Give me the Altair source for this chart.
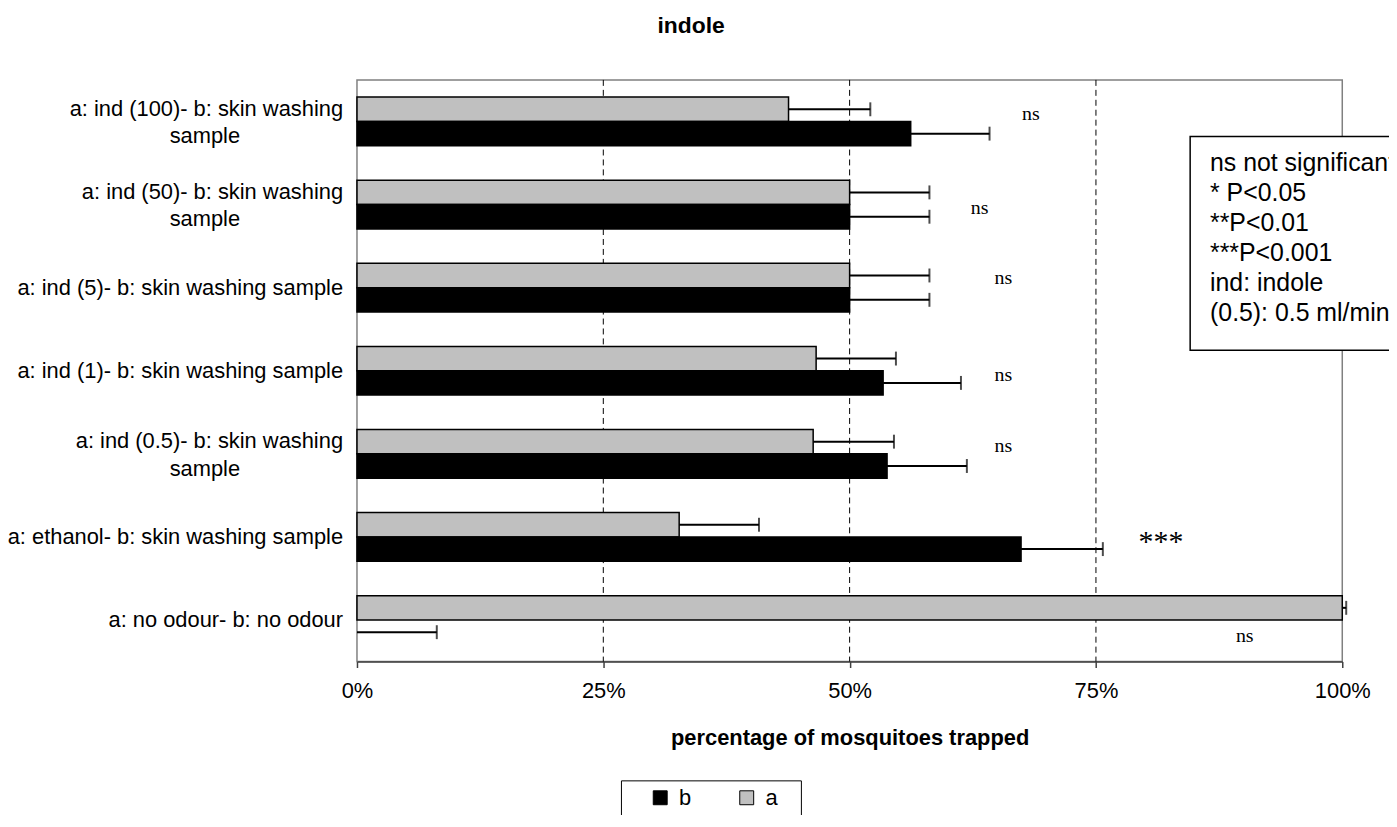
import altair as alt
import pandas as pd

# ---------------- data ----------------
categories = ["ind100", "ind50", "ind5", "ind1", "ind0.5", "ethanol", "noodour"]
label_line1 = [
    "a: ind (100)- b: skin washing",
    "a: ind (50)- b: skin washing",
    "a: ind (5)- b: skin washing sample",
    "a: ind (1)- b: skin washing sample",
    "a: ind (0.5)- b: skin washing",
    "a: ethanol- b: skin washing sample",
    "a: no odour- b: no odour",
]
label_line2 = ["sample", "sample", "", "", "sample", "", ""]

a_values = [43.8, 50.0, 50.0, 46.6, 46.3, 32.7, 100.0]
b_values = [56.2, 50.0, 50.0, 53.4, 53.8, 67.4, 0.0]
a_errors = [8.3, 8.1, 8.1, 8.1, 8.2, 8.1, 0.4]
b_errors = [8.0, 8.1, 8.1, 7.9, 8.1, 8.3, 8.1]

sig_labels = ["ns", "ns", "ns", "ns", "ns", "***", "ns"]
sig_x = [68.4, 63.2, 65.6, 65.6, 65.6, 81.6, 90.1]
sig_dy = [17, 28, 15, 29, 17, 30, 41]

grid_values = [25, 50, 75]
tick_values = [0, 25, 50, 75, 100]
series_names = ["a", "b"]
legend_order = ["b", "a"]
note_lines = ["ns not significant", "* P<0.05", "**P<0.01", "***P<0.001",
              "ind: indole", "(0.5): 0.5 ml/min"]

# ---------------- tables ----------------
rows = []
for i, c in enumerate(categories):
    rows.append({"cat": c, "series": "a", "value": a_values[i], "err": a_errors[i]})
    rows.append({"cat": c, "series": "b", "value": b_values[i], "err": b_errors[i]})
bars_df = pd.DataFrame(rows)
bars_df["hi"] = bars_df["value"] + bars_df["err"]

labels_df = pd.DataFrame({"cat": categories, "l1": label_line1, "l2": label_line2})
sig_df = pd.DataFrame({"cat": categories, "txt": sig_labels, "x": sig_x, "dy": sig_dy})
grid_df = pd.DataFrame({"g": grid_values})

SANS = "Liberation Sans"
SERIF = "Liberation Serif"

yscale = alt.Scale(domain=categories, paddingInner=0.414, paddingOuter=0.207)
xscale = alt.Scale(domain=[0, 100], nice=False)
xaxis = alt.Axis(
    values=tick_values, labelExpr="datum.value + '%'", grid=False, labelFlush=False,
    title="percentage of mosquitoes trapped", titleFont=SANS, titleFontSize=22,
    titleFontWeight="bold", titleColor="black", titlePadding=26,
    labelFont=SANS, labelFontSize=22, labelColor="black", labelPadding=13,
    domainColor="#404040", domainWidth=1.5, tickColor="#404040", tickWidth=1.5,
    tickSize=6,
)

Y = alt.Y("cat:N", scale=yscale, axis=None)
YOFF = alt.YOffset("series:N", scale=alt.Scale(domain=series_names))

grid = alt.Chart(grid_df).mark_rule(color="black", strokeWidth=1, strokeDash=[6, 4]).encode(
    x=alt.X("g:Q", scale=xscale, axis=xaxis)
)

bars = alt.Chart(bars_df).transform_filter("datum.value > 0").mark_bar(
    stroke="black", strokeWidth=1.5
).encode(
    x=alt.X("value:Q", scale=xscale, axis=xaxis),
    y=Y,
    yOffset=YOFF,
    color=alt.Color(
        "series:N",
        scale=alt.Scale(domain=legend_order, range=["#000000", "#C0C0C0"]),
        legend=alt.Legend(
            title=None, orient="none", legendX=294, legendY=711, direction="horizontal",
            symbolType="square", symbolSize=196, symbolStrokeColor="black",
            symbolStrokeWidth=1, labelFont=SANS, labelFontSize=22, labelColor="black",
            labelOffset=8, columnPadding=44, padding=0,
        ),
    ),
)

err_rule = alt.Chart(bars_df).mark_rule(color="black", strokeWidth=2).encode(
    x=alt.X("value:Q", scale=xscale, axis=xaxis),
    x2="hi:Q",
    y=Y,
    yOffset=YOFF,
)

err_cap = alt.Chart(bars_df).mark_tick(color="black", thickness=2, size=14).encode(
    x=alt.X("hi:Q", scale=xscale, axis=xaxis),
    y=Y,
    yOffset=YOFF,
)

sig_ns = alt.Chart(sig_df).transform_filter("datum.txt == 'ns'").mark_text(
    font=SERIF, fontSize=20, color="black", baseline="middle", align="center"
).encode(
    x=alt.X("x:Q", scale=xscale, axis=xaxis),
    y=Y,
    yOffset=alt.YOffset("dy:Q", scale=None),
    text="txt:N",
)
sig_star = alt.Chart(sig_df).transform_filter("datum.txt != 'ns'").mark_text(
    font=SERIF, fontSize=30, color="black", baseline="middle", align="center"
).encode(
    x=alt.X("x:Q", scale=xscale, axis=xaxis),
    y=Y,
    yOffset=alt.YOffset("dy:Q", scale=None),
    text="txt:N",
)

lab_single = alt.Chart(labels_df).transform_filter("datum.l2 == ''").mark_text(
    font=SANS, fontSize=22, color="black", align="right", baseline="middle"
).encode(x=alt.value(-14), y=Y, text="l1:N")
lab_first = alt.Chart(labels_df).transform_filter("datum.l2 != ''").mark_text(
    font=SANS, fontSize=22, color="black", align="right", baseline="middle", dy=-13
).encode(x=alt.value(-14), y=Y, text="l1:N")
lab_second = alt.Chart(labels_df).transform_filter("datum.l2 != ''").mark_text(
    font=SANS, fontSize=22, color="black", align="center", baseline="middle", dy=15
).encode(x=alt.value(-153), y=Y, text="l2:N")

one = alt.Data(values=[{}])
title_txt = alt.Chart(one).mark_text(
    text="indole", font=SANS, fontSize=23, fontWeight="bold", color="black",
    align="center", baseline="middle"
).encode(x=alt.value(336), y=alt.value(-54))

note_box = alt.Chart(one).mark_rect(fill="white", stroke="black", strokeWidth=1.5).encode(
    x=alt.value(838), x2=alt.value(1100), y=alt.value(57), y2=alt.value(272)
)
note_txt = alt.Chart(one).mark_text(
    text=note_lines, font=SANS, fontSize=25, color="black", align="left",
    baseline="top", lineHeight=30
).encode(x=alt.value(858), y=alt.value(72))

legend_box = alt.Chart(one).mark_rect(fill="white", stroke="black", strokeWidth=1).encode(
    x=alt.value(266), x2=alt.value(447), y=alt.value(705), y2=alt.value(820)
)

chart = alt.layer(
    grid, bars, err_rule, err_cap, sig_ns, sig_star,
    lab_single, lab_first, lab_second, title_txt, note_box, note_txt, legend_box,
).properties(
    width=991, height=585,
    padding={"left": 351, "top": 70, "right": 47, "bottom": 152},
    autosize=alt.AutoSizeParams(type="none"),
).configure_view(
    stroke="#808080", strokeWidth=1.5
)

chart.save("out.html", embed_options={"renderer": "svg", "actions": False})
